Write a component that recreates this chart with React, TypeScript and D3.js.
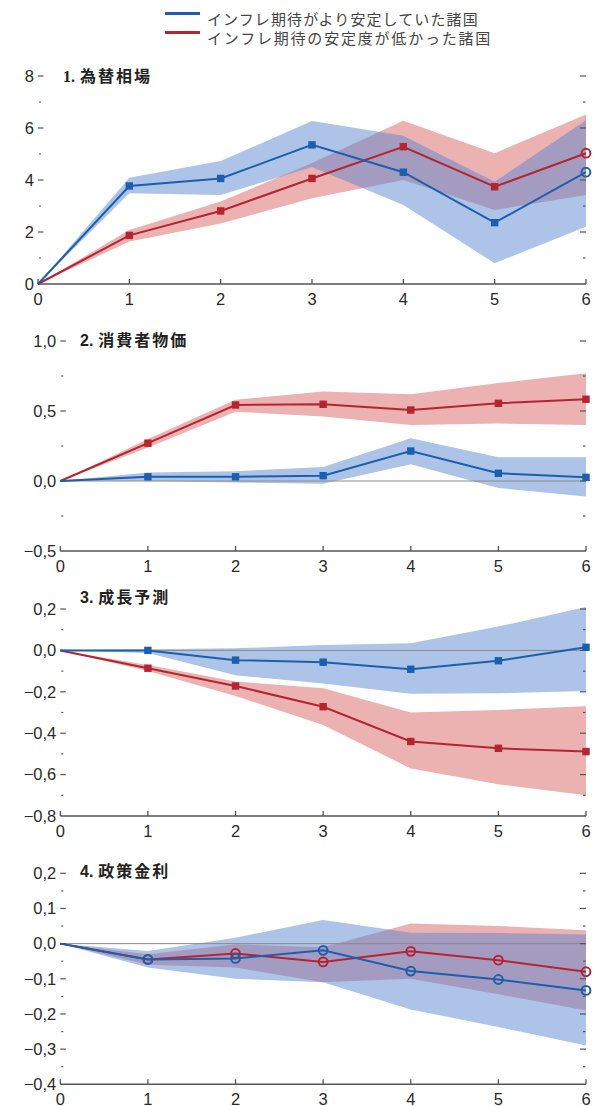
import React from 'react';
import * as d3 from 'd3';

// horizons (x)
const horizons = [0, 1, 2, 3, 4, 5, 6];

// legend
const seriesNames = ['インフレ期待がより安定していた諸国', 'インフレ期待の安定度が低かった諸国'];

// 1. 為替相場
const fxStable = [0, 3.77, 4.06, 5.35, 4.3, 2.36, 4.3];
const fxStableLo = [0, 3.49, 3.42, 4.5, 3.04, 0.8, 2.2];
const fxStableHi = [0, 4.09, 4.73, 6.27, 5.7, 3.93, 6.3];
const fxLess = [0, 1.87, 2.81, 4.06, 5.28, 3.74, 5.03];
const fxLessLo = [0, 1.63, 2.33, 3.3, 4.0, 2.85, 3.42];
const fxLessHi = [0, 2.08, 3.17, 4.65, 6.28, 5.03, 6.52];
const fxSig = [1, 1, 1, 1, 1, 1, 0];

// 2. 消費者物価
const cpiStable = [0, 0.03, 0.03, 0.038, 0.214, 0.055, 0.026];
const cpiStableLo = [0, 0.0, -0.01, -0.02, 0.12, -0.05, -0.11];
const cpiStableHi = [0, 0.06, 0.07, 0.1, 0.305, 0.17, 0.17];
const cpiLess = [0, 0.27, 0.543, 0.548, 0.507, 0.555, 0.584];
const cpiLessLo = [0, 0.24, 0.495, 0.46, 0.4, 0.41, 0.4];
const cpiLessHi = [0, 0.3, 0.58, 0.64, 0.62, 0.7, 0.77];
const cpiSig = [1, 1, 1, 1, 1, 1, 1];

// 3. 成長予測
const grStable = [0, 0.0, -0.047, -0.057, -0.091, -0.05, 0.015];
const grStableLo = [0, -0.012, -0.12, -0.16, -0.21, -0.207, -0.196];
const grStableHi = [0, 0.006, 0.01, 0.026, 0.034, 0.115, 0.21];
const grLess = [0, -0.086, -0.172, -0.272, -0.44, -0.473, -0.489];
const grLessLo = [0, -0.1, -0.22, -0.36, -0.57, -0.647, -0.7];
const grLessHi = [0, -0.07, -0.15, -0.183, -0.3, -0.288, -0.27];
const grSig = [1, 1, 1, 1, 1, 1, 1];

// 4. 政策金利
const prStable = [0, -0.045, -0.042, -0.019, -0.078, -0.102, -0.133];
const prStableLo = [0, -0.068, -0.1, -0.11, -0.187, -0.237, -0.29];
const prStableHi = [0, -0.021, 0.017, 0.067, 0.031, 0.03, 0.026];
const prLess = [0, -0.045, -0.028, -0.052, -0.022, -0.047, -0.08];
const prLessLo = [0, -0.06, -0.068, -0.11, -0.1, -0.144, -0.19];
const prLessHi = [0, -0.03, -0.002, -0.01, 0.057, 0.05, 0.038];
const prSig = [0, 0, 0, 0, 0, 0, 0];

const BLUE = '#1b5fae';
const RED = '#b52430';
const BLUE_BAND = '#5b87cf';
const RED_BAND = '#d96464';
const NUM_FONT = 'Liberation Sans, Arial, sans-serif';

const fmt = (v: number, dec: number) =>
  dec === 0 ? String(v) : (v < 0 ? '−' : '') + Math.abs(v).toFixed(dec).replace('.', ',');

type PanelProps = {
  num: string;
  title: string;
  numSerif?: boolean;
  left: number;
  top: number;
  bottom: number;
  domain: [number, number];
  major: number[];
  minor: number[];
  dec: number;
  zeroLine: boolean;
  stable: number[]; stableLo: number[]; stableHi: number[];
  less: number[]; lessLo: number[]; lessHi: number[];
  sig: number[];
  titleX: number; titleY: number;
};

function Panel(p: PanelProps) {
  const x = d3.scaleLinear().domain([0, 6]).range([p.left, 586]);
  const y = d3.scaleLinear().domain(p.domain).range([p.bottom, p.top]);
  const line = d3.line<number>().x((_, i) => x(horizons[i])).y(d => y(d));
  const band = (lo: number[], hi: number[]) =>
    d3.area<number>().x(d => x(d)).y0((_, i) => y(lo[i])).y1((_, i) => y(hi[i]))(horizons) || '';
  const axisY = y(p.domain[0]);
  const markers = (vals: number[], color: string) =>
    horizons.slice(1).map(h => {
      const cx = x(h), cy = y(vals[h]);
      return p.sig[h]
        ? <rect key={h} x={cx - 3.7} y={cy - 3.7} width={7.4} height={7.4} fill={color} />
        : <circle key={h} cx={cx} cy={cy} r={4.4} fill="none" stroke={color} strokeWidth={2} />;
    });
  return (
    <g>
      <path d={band(p.lessLo, p.lessHi)} fill={RED_BAND} opacity={0.5} />
      <path d={band(p.stableLo, p.stableHi)} fill={BLUE_BAND} opacity={0.5} />
      {p.zeroLine && <line x1={x(0)} x2={x(6)} y1={y(0)} y2={y(0)} stroke="#8a8a8a" strokeWidth={1} />}
      {/* bottom axis */}
      <line x1={x(0)} x2={x(6)} y1={axisY} y2={axisY} stroke="#555" strokeWidth={1.5} />
      {horizons.map(h => (
        <g key={h}>
          <line x1={x(h)} x2={x(h)} y1={axisY} y2={axisY - 5} stroke="#555" strokeWidth={1.3} />
          <text x={x(h)} y={axisY + 21} textAnchor="middle" fontSize={16.5} fill="#2a2a2a"
            fontFamily={NUM_FONT}>{h}</text>
        </g>
      ))}
      {/* y ticks */}
      {p.major.map(v => (
        <g key={'M' + v}>
          <text x={p.left - 4} y={y(v) + 5.8} textAnchor="end" fontSize={16.5} fill="#2a2a2a"
            fontFamily={NUM_FONT}>{fmt(v, p.dec)}</text>
          {v !== p.domain[0] && <>
            <line x1={p.left} x2={p.left + 5.5} y1={y(v)} y2={y(v)} stroke="#555" strokeWidth={1.2} />
            <line x1={580} x2={586} y1={y(v)} y2={y(v)} stroke="#555" strokeWidth={1.2} />
          </>}
        </g>
      ))}
      {p.minor.map(v => (
        <g key={'m' + v}>
          <line x1={p.left + 1} x2={p.left + 3} y1={y(v)} y2={y(v)} stroke="#555" strokeWidth={1.2} />
          <line x1={583} x2={585.5} y1={y(v)} y2={y(v)} stroke="#555" strokeWidth={1.2} />
        </g>
      ))}
      <path d={line(p.less) || ''} fill="none" stroke={RED} strokeWidth={2} />
      {markers(p.less, RED)}
      <path d={line(p.stable) || ''} fill="none" stroke={BLUE} strokeWidth={2} />
      {markers(p.stable, BLUE)}
      <text x={p.titleX} y={p.titleY + 5.8} fontSize={16} fontWeight={700} fill="#222"
        fontFamily="Noto Sans CJK JP, sans-serif">
        <tspan fontFamily={p.numSerif ? 'Liberation Serif, serif' : NUM_FONT}>{p.num}</tspan>
        <tspan dx={5} letterSpacing={2}>{p.title}</tspan>
      </text>
    </g>
  );
}

export default function App() {
  return (
    <svg width={598} height={1106} style={{ position: 'absolute', left: 0, top: 0, background: '#fff' }}>
      <g fontFamily="Noto Sans CJK JP, sans-serif">
        <line x1={165} x2={200} y1={13.5} y2={13.5} stroke={BLUE} strokeWidth={3} />
        <text x={207} y={25} fontSize={15} fill="#444" letterSpacing={1.1}>{seriesNames[0]}</text>
        <line x1={165} x2={200} y1={32.5} y2={32.5} stroke={RED} strokeWidth={3} />
        <text x={207} y={44} fontSize={15} fill="#444" letterSpacing={1.8}>{seriesNames[1]}</text>
      </g>
      <Panel num="1." title="為替相場" numSerif left={38} top={76} bottom={284} domain={[0, 8]}
        major={[0, 2, 4, 6, 8]} minor={[1, 3, 5, 7]} dec={0} zeroLine={false}
        stable={fxStable} stableLo={fxStableLo} stableHi={fxStableHi}
        less={fxLess} lessLo={fxLessLo} lessHi={fxLessHi} sig={fxSig} titleX={63} titleY={76} />
      <Panel num="2." title="消費者物価" left={60.3} top={341} bottom={551} domain={[-0.5, 1.0]}
        major={[-0.5, 0, 0.5, 1.0]} minor={[-0.25, 0.25, 0.75]} dec={1} zeroLine={true}
        stable={cpiStable} stableLo={cpiStableLo} stableHi={cpiStableHi}
        less={cpiLess} lessLo={cpiLessLo} lessHi={cpiLessHi} sig={cpiSig} titleX={80} titleY={340} />
      <Panel num="3." title="成長予測" left={60.3} top={609} bottom={816} domain={[-0.8, 0.2]}
        major={[-0.8, -0.6, -0.4, -0.2, 0, 0.2]} minor={[-0.7, -0.5, -0.3, -0.1, 0.1]} dec={1} zeroLine={true}
        stable={grStable} stableLo={grStableLo} stableHi={grStableHi}
        less={grLess} lessLo={grLessLo} lessHi={grLessHi} sig={grSig} titleX={80} titleY={597} />
      <Panel num="4." title="政策金利" left={60.3} top={873.3} bottom={1084.3} domain={[-0.4, 0.2]}
        major={[-0.4, -0.3, -0.2, -0.1, 0, 0.1, 0.2]} minor={[-0.35, -0.25, -0.15, -0.05, 0.05, 0.15]} dec={1} zeroLine={true}
        stable={prStable} stableLo={prStableLo} stableHi={prStableHi}
        less={prLess} lessLo={prLessLo} lessHi={prLessHi} sig={prSig} titleX={80} titleY={871} />
    </svg>
  );
}
